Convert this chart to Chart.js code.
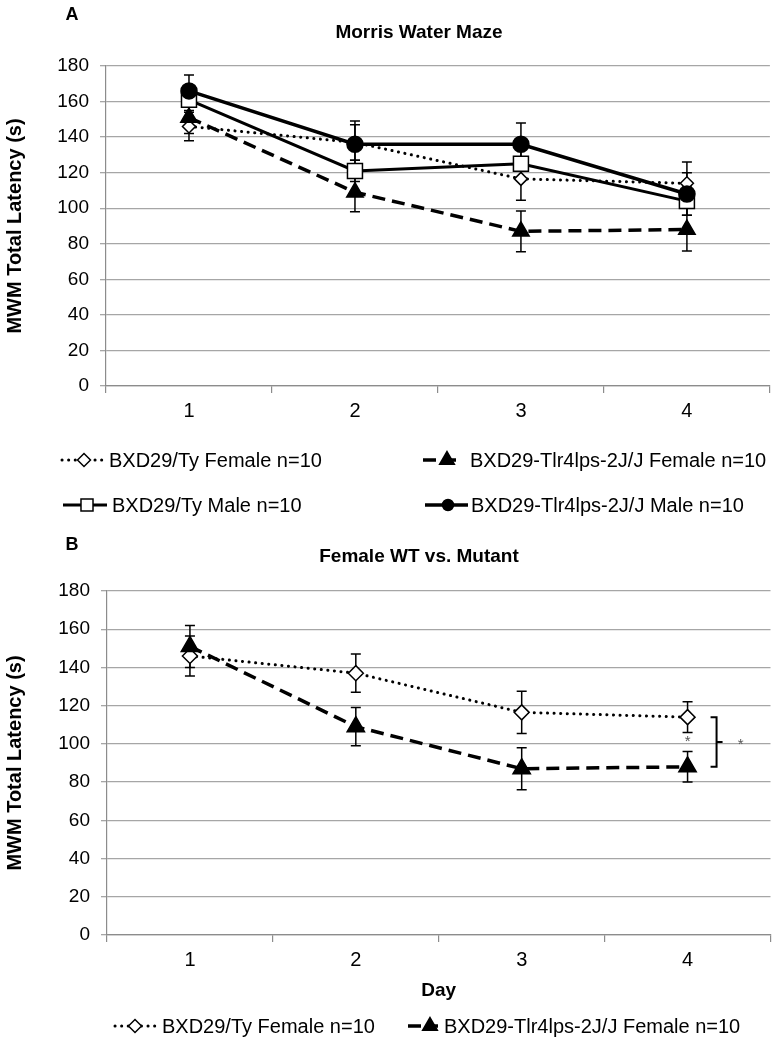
<!DOCTYPE html>
<html>
<head>
<meta charset="utf-8">
<script src="https://cdn.jsdelivr.net/npm/chart.js@4"></script>
<style>
  html, body { margin: 0; padding: 0; background: #fff; }
  canvas { position: absolute; left: 0; }
  #chartA { top: 0; }
  #chartB { top: 530px; }
</style>
</head>
<body>
<canvas id="chartA" width="782" height="530"></canvas>
<canvas id="chartB" width="782" height="517"></canvas>
<script>
// data (mean total latency, seconds)
const days = ['1', '2', '3', '4'];
const femaleWT = [146, 137, 116.5, 114];
const femaleMut = [151, 109, 87, 88];
const maleWT = [161, 121, 125, 104];
const maleMut = [166, 136, 136, 108];

// error bars, panel A
const femaleWTErrA = [8, 10, 12, 12];
const femaleMutErrA = [9, 11, 11.5, 12];
const maleWTErrA = [6, 6, 8, 8];
const maleMutErrA = [9, 13, 12, 12];

// error bars, panel B
const femaleWTErrB = [10.5, 10, 11, 8];
const femaleMutErrB = [11, 10, 11, 8];

const yMin = 0, yMax = 180, yStep = 20;

const FONT = "'Liberation Sans', Arial, sans-serif";
Chart.defaults.font.family = FONT;
Chart.defaults.color = '#000';

const styles = {
  femaleWT: { borderWidth: 3, borderDash: [0.1, 6.5], borderCapStyle: 'round', pointStyle: 'rectRot', bg: '#fff' },
  femaleMut: { borderWidth: 3.5, borderDash: [13, 7], borderCapStyle: 'butt', pointStyle: 'triangle', bg: '#000' },
  maleWT: { borderWidth: 3, borderDash: [], borderCapStyle: 'butt', pointStyle: 'rect', bg: '#fff' },
  maleMut: { borderWidth: 3.5, borderDash: [], borderCapStyle: 'butt', pointStyle: 'circle', bg: '#000' }
};

function makeSet(label, data, errors, st, radius, order) {
  return {
    label, data, errors, order,
    borderColor: '#000',
    borderWidth: st.borderWidth,
    borderDash: st.borderDash,
    borderCapStyle: st.borderCapStyle,
    tension: 0,
    fill: false,
    pointStyle: st.pointStyle,
    pointRadius: radius,
    pointHoverRadius: radius,
    pointBackgroundColor: st.bg,
    pointBorderColor: '#000',
    pointBorderWidth: 1.5
  };
}

function marker(ctx, style, r, x, y, bg) {
  ctx.fillStyle = bg;
  ctx.strokeStyle = '#000';
  ctx.lineWidth = 1.5;
  if (Chart.helpers && Chart.helpers.drawPoint) {
    Chart.helpers.drawPoint(ctx, { pointStyle: style, radius: r, rotation: 0, borderWidth: 1.5 }, x, y);
    return;
  }
  ctx.beginPath();
  if (style === 'circle') ctx.arc(x, y, r, 0, Math.PI * 2);
  else if (style === 'rect') ctx.rect(x - r * 0.707, y - r * 0.707, r * 1.414, r * 1.414);
  else if (style === 'rectRot') { ctx.moveTo(x - r, y); ctx.lineTo(x, y - r); ctx.lineTo(x + r, y); ctx.lineTo(x, y + r); ctx.closePath(); }
  else { ctx.moveTo(x, y - r); ctx.lineTo(x + r * 0.866, y + r * 0.5); ctx.lineTo(x - r * 0.866, y + r * 0.5); ctx.closePath(); }
  ctx.fill(); ctx.stroke();
}

const errorBars = {
  id: 'errorBars',
  beforeDatasetsDraw(chart) {
    const { ctx, scales: { x, y } } = chart;
    ctx.save();
    ctx.strokeStyle = '#000';
    ctx.lineWidth = 1.5;
    chart.data.datasets.forEach(ds => {
      if (!ds.errors) return;
      ds.data.forEach((v, i) => {
        const px = x.getPixelForValue(i);
        const top = y.getPixelForValue(v + ds.errors[i]);
        const bot = y.getPixelForValue(v - ds.errors[i]);
        ctx.beginPath();
        ctx.moveTo(px, top); ctx.lineTo(px, bot);
        ctx.moveTo(px - 5, top); ctx.lineTo(px + 5, top);
        ctx.moveTo(px - 5, bot); ctx.lineTo(px + 5, bot);
        ctx.stroke();
      });
    });
    ctx.restore();
  }
};

// panel letter, title and the line+marker legend
const panelText = {
  id: 'panelText',
  afterDraw(chart, args, opts) {
    const ctx = chart.ctx;
    ctx.save();
    ctx.fillStyle = '#000';
    ctx.textBaseline = 'middle';
    ctx.font = 'bold 18px ' + FONT;
    ctx.textAlign = 'center';
    ctx.fillText(opts.letter, opts.letterX, opts.letterY);
    ctx.font = 'bold 19px ' + FONT;
    ctx.fillText(opts.title, opts.titleX, opts.titleY);

    ctx.font = '20px ' + FONT;
    ctx.textAlign = 'left';
    opts.legend.forEach(it => {
      const ds = chart.data.datasets[it.ds];
      ctx.save();
      ctx.strokeStyle = '#000';
      ctx.lineWidth = ds.borderWidth;
      ctx.lineCap = ds.borderCapStyle;
      ctx.setLineDash(ds.borderDash);
      ctx.beginPath();
      ctx.moveTo(it.x0, it.y);
      ctx.lineTo(it.x1, it.y);
      ctx.stroke();
      ctx.setLineDash([]);
      marker(ctx, ds.pointStyle, it.r, it.mx, it.y, ds.pointBackgroundColor);
      ctx.restore();
      ctx.fillStyle = '#000';
      ctx.fillText(ds.label, it.tx, it.y + 1);
    });
    ctx.restore();
  }
};

// significance bracket between the two day-4 means (panel B)
const bracket = {
  id: 'bracket',
  afterDraw(chart, args, opts) {
    if (!opts.show) return;
    const { ctx, scales: { x, y } } = chart;
    const px = x.getPixelForValue(3);
    const yTop = y.getPixelForValue(femaleWT[3]);
    const yBot = y.getPixelForValue(femaleMut[3]);
    const bx = px + 29;
    const mid = (yTop + yBot) / 2;
    ctx.save();
    ctx.strokeStyle = '#000';
    ctx.lineWidth = 2;
    ctx.beginPath();
    ctx.moveTo(bx - 6, yTop); ctx.lineTo(bx, yTop); ctx.lineTo(bx, yBot); ctx.lineTo(bx - 6, yBot);
    ctx.moveTo(bx, mid); ctx.lineTo(bx + 6, mid);
    ctx.stroke();
    ctx.fillStyle = '#555';
    ctx.font = '15px ' + FONT;
    ctx.textAlign = 'center';
    ctx.textBaseline = 'middle';
    ctx.fillText('*', bx + 24, mid + 3);
    ctx.fillText('*', px, y.getPixelForValue(femaleWT[3] - femaleWTErrB[3]) + 9);
    ctx.restore();
  }
};

function scales(leftWidth, xHeight, withTitle) {
  return {
    x: {
      type: 'category',
      offset: true,
      grid: { offset: true, drawOnChartArea: false, drawTicks: true, tickLength: 7, color: '#8c8c8c', lineWidth: 1.2 },
      border: { color: '#8c8c8c', width: 1.2 },
      ticks: { color: '#000', font: { size: 20 }, padding: 6 },
      title: withTitle ? { display: true, text: 'Day', color: '#000', font: { size: 19, weight: 'bold' }, padding: { top: 0, bottom: 3 } } : { display: false },
      afterFit(s) { s.height = xHeight; }
    },
    y: {
      min: yMin, max: yMax,
      ticks: { stepSize: yStep, color: '#000', font: { size: 19 }, padding: 11 },
      grid: { color: '#a6a6a6', lineWidth: 1.3, tickLength: 6, drawTicks: true },
      border: { color: '#8c8c8c', width: 1.2 },
      title: { display: true, text: 'MWM Total Latency (s)', color: '#000', font: { size: 20, weight: 'bold' }, padding: { top: 3, bottom: 0 } },
      afterFit(s) { s.width = leftWidth; }
    }
  };
}

new Chart(document.getElementById('chartA'), {
  type: 'line',
  data: {
    labels: days,
    datasets: [
      makeSet('BXD29/Ty Female n=10', femaleWT, femaleWTErrA, styles.femaleWT, 6.5, 4),
      makeSet('BXD29-Tlr4lps-2J/J Female n=10', femaleMut, femaleMutErrA, styles.femaleMut, 9.5, 3),
      makeSet('BXD29/Ty Male n=10', maleWT, maleWTErrA, styles.maleWT, 10.6, 2),
      makeSet('BXD29-Tlr4lps-2J/J Male n=10', maleMut, maleMutErrA, styles.maleMut, 8, 1)
    ]
  },
  options: {
    responsive: false,
    devicePixelRatio: 1,
    animation: false,
    layout: { padding: { top: 66, right: 8, bottom: 104, left: 0 } },
    scales: scales(106, 40, false),
    plugins: {
      legend: { display: false },
      tooltip: { enabled: false },
      panelText: {
        letter: 'A', letterX: 72, letterY: 15,
        title: 'Morris Water Maze', titleX: 419, titleY: 33,
        legend: [
          { ds: 0, x0: 62, x1: 103, mx: 84, r: 6.5, tx: 109, y: 460 },
          { ds: 1, x0: 423, x1: 462, mx: 447, r: 8.5, tx: 470, y: 460 },
          { ds: 2, x0: 63, x1: 107, mx: 87, r: 8.5, tx: 112, y: 505 },
          { ds: 3, x0: 425, x1: 468, mx: 448, r: 5.5, tx: 471, y: 505 }
        ]
      },
      bracket: { show: false }
    }
  },
  plugins: [errorBars, panelText, bracket]
});

new Chart(document.getElementById('chartB'), {
  type: 'line',
  data: {
    labels: days,
    datasets: [
      makeSet('BXD29/Ty Female n=10', femaleWT, femaleWTErrB, styles.femaleWT, 7.5, 2),
      makeSet('BXD29-Tlr4lps-2J/J Female n=10', femaleMut, femaleMutErrB, styles.femaleMut, 10, 1)
    ]
  },
  options: {
    responsive: false,
    devicePixelRatio: 1,
    animation: false,
    layout: { padding: { top: 61, right: 8, bottom: 42, left: 0 } },
    scales: scales(107, 70, true),
    plugins: {
      legend: { display: false },
      tooltip: { enabled: false },
      panelText: {
        letter: 'B', letterX: 72, letterY: 15,
        title: 'Female WT vs. Mutant', titleX: 419, titleY: 27,
        legend: [
          { ds: 0, x0: 115, x1: 157, mx: 135, r: 6.5, tx: 162, y: 496 },
          { ds: 1, x0: 408, x1: 438, mx: 430, r: 8.5, tx: 444, y: 496 }
        ]
      },
      bracket: { show: true }
    }
  },
  plugins: [errorBars, panelText, bracket]
});
</script>
</body>
</html>
